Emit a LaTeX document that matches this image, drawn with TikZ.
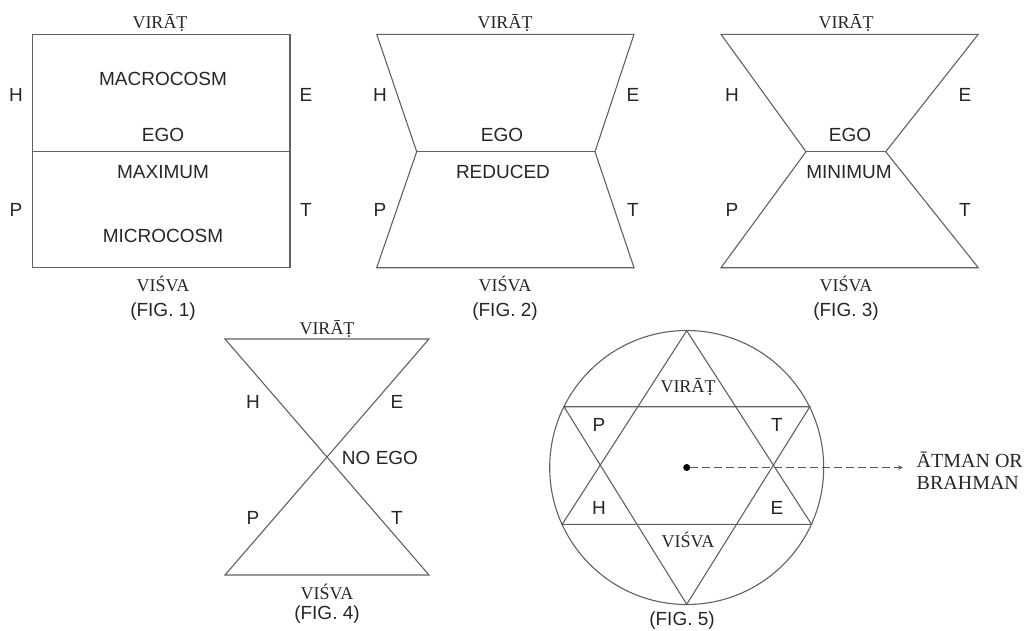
\documentclass[tikz,border=0pt]{standalone}
\usepackage{fontspec}
\setmainfont{Liberation Sans}
\newfontfamily\serifface{Liberation Serif}
\usetikzlibrary{arrows.meta}
\begin{document}
\begin{tikzpicture}[x=1pt,y=-1pt,
  outline/.style={draw=black!62, line width=1.1pt, line join=miter},
  lab/.style={font=\fontsize{19}{21}\selectfont, text=black!85, inner sep=0pt, text height=13.6pt, text depth=0pt},
  ser/.style={font=\serifface\fontsize{18}{20}\selectfont, text=black!85, inner sep=0pt, text height=12pt, text depth=0pt},
  big/.style={font=\serifface\fontsize{20}{21.7}\selectfont, text=black!85, inner sep=0pt, align=left, anchor=west}]
\useasboundingbox (0,0) rectangle (1026,630);

% ---------- FIG. 1 ----------
\coordinate (a1) at (32.7,34.3);
\coordinate (b1) at (290,34.3);
\coordinate (c1) at (290,267.7);
\coordinate (d1) at (32.7,267.7);
\coordinate (l1) at (32.7,151.7);
\coordinate (r1) at (290,151.7);
\draw[outline] (a1) -- (b1) -- (c1) -- (d1) -- cycle;
\draw[outline] (l1) -- (r1);
\node[ser] (v1) at (160,22) {VIRĀṬ};
\node[lab] (mac1) at (163,79) {MACROCOSM};
\node[lab] (h1) at (16,95) {H};
\node[lab] (e1) at (306,95) {E};
\node[lab] (ego1) at (163,135) {EGO};
\node[lab] (max1) at (163,172) {MAXIMUM};
\node[lab] (p1) at (16,210) {P};
\node[lab] (t1) at (306,210) {T};
\node[lab] (mic1) at (163,236) {MICROCOSM};
\node[ser] (w1) at (163,285) {VIŚVA};
\node[lab] (f1) at (163,310) {(FIG. 1)};

% ---------- FIG. 2 ----------
\coordinate (a2) at (376.7,34.3);
\coordinate (b2) at (634,34.3);
\coordinate (wr2) at (595,151.7);
\coordinate (c2) at (634,267.7);
\coordinate (d2) at (376.7,267.7);
\coordinate (wl2) at (416.7,151.7);
\draw[outline] (a2) -- (b2) -- (wr2) -- (c2) -- (d2) -- (wl2) -- cycle;
\draw[outline] (wl2) -- (wr2);
\node[ser] (v2) at (505,22) {VIRĀṬ};
\node[lab] (h2) at (380,95) {H};
\node[lab] (e2) at (633,95) {E};
\node[lab] (ego2) at (502,135) {EGO};
\node[lab] (red2) at (503,172) {REDUCED};
\node[lab] (p2) at (380,210) {P};
\node[lab] (t2) at (633,210) {T};
\node[ser] (w2) at (505,285) {VIŚVA};
\node[lab] (f2) at (505,310) {(FIG. 2)};

% ---------- FIG. 3 ----------
\coordinate (a3) at (721,34.3);
\coordinate (b3) at (978.3,34.3);
\coordinate (wr3) at (885.7,151.7);
\coordinate (c3) at (978.3,267.7);
\coordinate (d3) at (721,267.7);
\coordinate (wl3) at (806,151.7);
\draw[outline] (a3) -- (b3) -- (wr3) -- (c3) -- (d3) -- (wl3) -- cycle;
\draw[outline] (wl3) -- (wr3);
\node[ser] (v3) at (846,22) {VIRĀṬ};
\node[lab] (h3) at (732,95) {H};
\node[lab] (e3) at (965,95) {E};
\node[lab] (ego3) at (850,135) {EGO};
\node[lab] (min3) at (849,172) {MINIMUM};
\node[lab] (p3) at (732,210) {P};
\node[lab] (t3) at (965,210) {T};
\node[ser] (w3) at (846,285) {VIŚVA};
\node[lab] (f3) at (846,310) {(FIG. 3)};

% ---------- FIG. 4 ----------
\coordinate (a4) at (225,339);
\coordinate (b4) at (429,339);
\coordinate (c4) at (429,575);
\coordinate (d4) at (225,575);
\draw[outline] (a4) -- (b4) -- (d4) -- (c4) -- cycle;
\node[ser] (v4) at (327,328) {VIRĀṬ};
\node[lab] (h4) at (253,402) {H};
\node[lab] (e4) at (397,402) {E};
\node[lab] (ne4) at (380,458) {NO EGO};
\node[lab] (p4) at (253,518) {P};
\node[lab] (t4) at (397,518) {T};
\node[ser] (w4) at (327,593) {VIŚVA};
\node[lab] (f4) at (327,613) {(FIG. 4)};

% ---------- FIG. 5 ----------
\coordinate (o5) at (686.7,467.5);
\draw[outline] (o5) circle[radius=137];
\coordinate (u1) at (686.7,330.7);
\coordinate (u2) at (811.5,524.3);
\coordinate (u3) at (562.2,524.3);
\coordinate (n1) at (564,406.7);
\coordinate (n2) at (809.8,406.7);
\coordinate (n3) at (686.7,604.3);
\draw[outline] (u1) -- (u2) -- (u3) -- cycle;
\draw[outline] (n1) -- (n2) -- (n3) -- cycle;
\node[ser] (v5) at (688,386) {VIRĀṬ};
\node[lab] (p5) at (599,425) {P};
\node[lab] (t5) at (777,425) {T};
\node[lab] (h5) at (599,508) {H};
\node[lab] (e5) at (777,508) {E};
\node[ser] (w5) at (688,541) {VIŚVA};
\node[lab] (f5) at (682,619) {(FIG. 5)};
\node[circle, fill=black, inner sep=0pt, minimum size=7pt] (dot5) at (o5) {};
\coordinate (arr5) at (903,467.5);
\draw[draw=black!65, line width=1.1pt, dash pattern=on 8pt off 4pt, -{Stealth[length=5pt,width=4.5pt]}] (dot5) -- (arr5);
\node[big] (atman) at (916.5,471) {ĀTMAN OR\\BRAHMAN};
\end{tikzpicture}
\end{document}
